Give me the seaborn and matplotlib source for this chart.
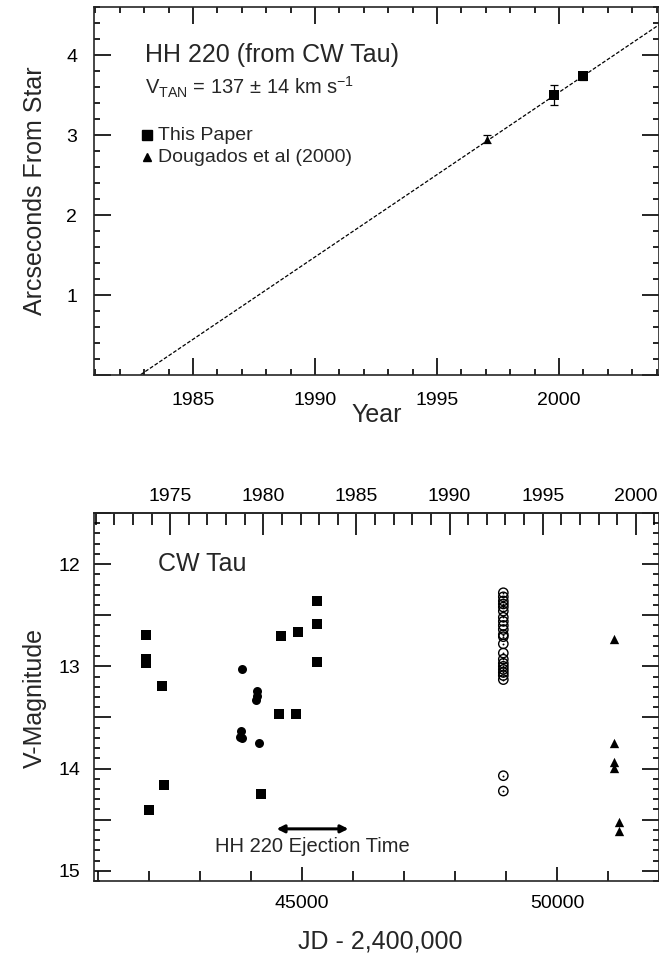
import numpy as np
import pandas as pd
import matplotlib
matplotlib.use("Agg")
import matplotlib.pyplot as plt
from matplotlib.ticker import MultipleLocator, FuncFormatter
import seaborn as sns

# ---------------- HH 220 proper motion ----------------
paper_year = [1999.8, 2001.0]
paper_dist = [3.50, 3.74]
paper_err = [0.12, 0.05]

doug_year = [1997.07]
doug_dist = [2.95]
doug_err = [0.05]

# linear fit: zero separation at the ejection epoch, constant rate (arcsec/yr)
fit_t0 = 1982.83
fit_rate = 0.2058

# ---------------- CW Tau V-band light curve ----------------
sq_jd = [41941, 41941, 41941, 42000, 42249, 42288, 44196, 44549, 44882,
         44582, 44915, 45294, 45294, 45294]
sq_mag = [12.69, 12.93, 12.97, 14.41, 13.19, 14.16, 14.25, 13.47, 13.47,
          12.70, 12.66, 12.36, 12.59, 12.96]

dot_jd = [43824, 44118, 44110, 44098, 43798, 43784, 43830, 44157]
dot_mag = [13.03, 13.24, 13.29, 13.33, 13.63, 13.69, 13.70, 13.75]

ring_jd = [48947] * 23
ring_mag = [12.28, 12.32, 12.36, 12.39, 12.42, 12.46, 12.52, 12.56, 12.60,
            12.64, 12.69, 12.71, 12.78, 12.87, 12.93, 12.97, 13.00, 13.03,
            13.06, 13.09, 13.13, 14.07, 14.22]

tri_jd = [51118, 51118, 51118, 51118, 51222, 51222]
tri_mag = [12.73, 13.75, 13.94, 13.99, 14.52, 14.61]

eject_jd = [44500, 45910]
eject_mag = 14.59

sns.set_theme(style="ticks")
plt.rcParams["font.family"] = ["Liberation Sans", "DejaVu Sans"]
plt.rcParams["mathtext.fontset"] = "custom"
plt.rcParams["mathtext.rm"] = "Liberation Sans"
plt.rcParams["mathtext.default"] = "regular"
plt.rcParams["axes.linewidth"] = 1.2
plt.rcParams["xtick.color"] = "black"
plt.rcParams["ytick.color"] = "black"

W, H = 659, 956
fig = plt.figure(figsize=(W / 100, H / 100), dpi=100)


def box(l, t, r, b):
    return [l / W, 1 - b / H, (r - l) / W, (b - t) / H]


# ================= top panel =================
ax1 = fig.add_axes(box(94, 7, 659, 375))
xlim1 = (1980.94, 2004.1)

fit_df = pd.DataFrame({"year": np.array(xlim1)})
fit_df["dist"] = fit_rate * (fit_df["year"] - fit_t0)
sns.lineplot(data=fit_df, x="year", y="dist", ax=ax1, color="black",
             lw=0.9, linestyle=(0, (3, 1.5)))

ax1.errorbar(paper_year, paper_dist, yerr=paper_err, fmt="none",
             ecolor="black", elinewidth=0.9, capsize=3, capthick=0.9)
ax1.errorbar(doug_year, doug_dist, yerr=doug_err, fmt="none",
             ecolor="black", elinewidth=0.9, capsize=3, capthick=0.9)
sns.scatterplot(x=paper_year, y=paper_dist, ax=ax1, marker="s", s=60,
                color="black", edgecolor="black", linewidth=0)
sns.scatterplot(x=doug_year, y=doug_dist, ax=ax1, marker="^", s=30,
                color="black", edgecolor="black", linewidth=0)

ax1.set_xlim(*xlim1)
ax1.set_ylim(0, 4.6)
ax1.xaxis.set_major_locator(MultipleLocator(5))
ax1.xaxis.set_minor_locator(MultipleLocator(1))
ax1.yaxis.set_major_locator(MultipleLocator(1))
ax1.yaxis.set_minor_locator(MultipleLocator(0.2))
ax1.yaxis.set_major_formatter(FuncFormatter(lambda v, p: "" if v < 0.5 else f"{v:.0f}"))
ax1.tick_params(which="both", direction="in", top=True, right=True,
                labelsize=14, width=1.2)
ax1.tick_params(which="major", length=12)
ax1.tick_params(which="minor", length=4.5)
ax1.tick_params(axis="x", which="major", pad=12)
ax1.tick_params(axis="y", which="major", pad=12)
ax1.set_xlabel("")
ax1.set_ylabel("")
for s in ax1.spines.values():
    s.set_visible(True)

ax1.text(0.5, -0.108, "Year", transform=ax1.transAxes, ha="center",
         va="center", fontsize=18)
fig.text(35 / W, 1 - 191 / H, "Arcseconds From Star", rotation=90,
         ha="center", va="center", fontsize=18)

ax1.text(1983.03, 4.0, "HH 220 (from CW Tau)", fontsize=18,
         ha="left", va="center")
ax1.text(1983.03, 3.59, r"V$_{TAN}$ = 137 $\pm$ 14 km s$^{-1}$",
         fontsize=14.5, ha="left", va="center")
ax1.plot([1983.1], [3.0], marker="s", ms=7.5, color="black", ls="none")
ax1.text(1983.55, 3.0, "This Paper", fontsize=14, ha="left", va="center")
ax1.plot([1983.1], [2.72], marker="^", ms=5.5, color="black", ls="none")
ax1.text(1983.55, 2.72, "Dougados et al (2000)", fontsize=14, ha="left",
         va="center")

# ================= bottom panel =================
ax2 = fig.add_axes(box(94, 513, 659, 881))

sns.scatterplot(x=sq_jd, y=sq_mag, ax=ax2, marker="s", s=58,
                color="black", edgecolor="black", linewidth=0)
sns.scatterplot(x=dot_jd, y=dot_mag, ax=ax2, marker="o", s=42,
                color="black", edgecolor="black", linewidth=0)
sns.scatterplot(x=ring_jd, y=ring_mag, ax=ax2, marker="o", s=45,
                facecolor="none", edgecolor="black", linewidth=1.0)
sns.scatterplot(x=ring_jd, y=ring_mag, ax=ax2, marker="o", s=2,
                color="black", edgecolor="black", linewidth=0)
sns.scatterplot(x=tri_jd, y=tri_mag, ax=ax2, marker="^", s=45,
                color="black", edgecolor="black", linewidth=0)

ax2.annotate("", xy=(eject_jd[1], eject_mag), xytext=(eject_jd[0], eject_mag),
             arrowprops=dict(arrowstyle="<|-|>", color="black", lw=2.2,
                             mutation_scale=11, shrinkA=0, shrinkB=0))
ax2.text(45200, 14.76, "HH 220 Ejection Time", fontsize=14.5,
         ha="center", va="center")
ax2.text(42170, 12.0, "CW Tau", fontsize=18, ha="left", va="center")

ax2.set_xlim(40920, 52000)
ax2.set_ylim(15.1, 11.5)
ax2.xaxis.set_major_locator(MultipleLocator(5000))
ax2.xaxis.set_minor_locator(MultipleLocator(1000))
ax2.xaxis.set_major_formatter(FuncFormatter(lambda v, p: f"{v:.0f}"))
ax2.yaxis.set_major_locator(MultipleLocator(0.5))
ax2.yaxis.set_minor_locator(MultipleLocator(0.1))
ax2.yaxis.set_major_formatter(
    FuncFormatter(lambda v, p: f"{v:.0f}" if abs(v - round(v)) < 1e-6 else ""))
ax2.tick_params(which="both", direction="in", top=False, right=True,
                labelsize=14, width=1.2)
ax2.tick_params(which="major", length=12)
ax2.tick_params(axis="y", which="minor", length=4.5)
ax2.tick_params(axis="x", which="minor", length=7.5)
ax2.tick_params(axis="x", which="major", length=10, pad=10)
ax2.tick_params(axis="y", which="major", pad=10)
ax2.set_xlabel("")
ax2.set_ylabel("")
for s in ax2.spines.values():
    s.set_visible(True)


def jd_to_year(jd):
    return 2000.0 + (np.asarray(jd) - 51544.5) / 365.25


def year_to_jd(yr):
    return 51544.5 + (np.asarray(yr) - 2000.0) * 365.25


sec = ax2.secondary_xaxis("top", functions=(jd_to_year, year_to_jd))
sec.xaxis.set_major_locator(MultipleLocator(5))
sec.xaxis.set_minor_locator(MultipleLocator(1))
sec.xaxis.set_major_formatter(FuncFormatter(lambda v, p: f"{v:.0f}"))
sec.tick_params(which="both", direction="in", labelsize=14, width=1.2)
sec.tick_params(which="major", length=16, pad=6)
sec.tick_params(which="minor", length=8.5)

fig.text(380 / W, 1 - 941 / H, "JD - 2,400,000", ha="center", va="center",
         fontsize=18)
fig.text(35 / W, 1 - 698 / H, "V-Magnitude", rotation=90, ha="center",
         va="center", fontsize=18)

fig.savefig("out.png", dpi=100)
